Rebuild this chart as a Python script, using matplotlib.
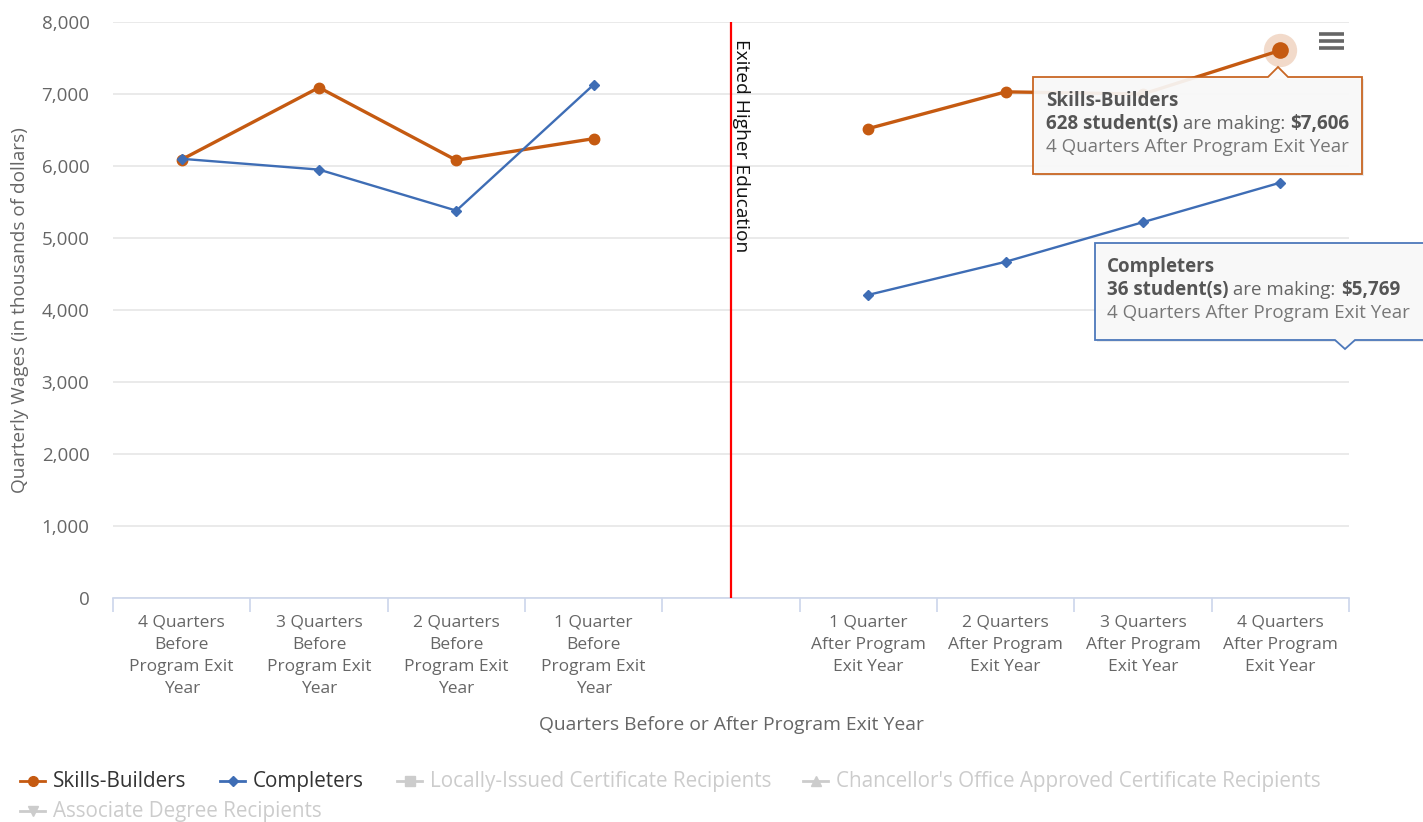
import numpy as np
import matplotlib
matplotlib.use("Agg")
import matplotlib.pyplot as plt
from matplotlib.lines import Line2D
from matplotlib.patches import Polygon

plt.rcParams['font.family'] = ['Open Sans', 'DejaVu Sans']

# ---------------- data ----------------
categories = [
    "4 Quarters\nBefore\nProgram Exit\nYear",
    "3 Quarters\nBefore\nProgram Exit\nYear",
    "2 Quarters\nBefore\nProgram Exit\nYear",
    "1 Quarter\nBefore\nProgram Exit\nYear",
    "",
    "1 Quarter\nAfter Program\nExit Year",
    "2 Quarters\nAfter Program\nExit Year",
    "3 Quarters\nAfter Program\nExit Year",
    "4 Quarters\nAfter Program\nExit Year",
]
skills_builders = [6090, 7090, 6080, 6380, np.nan, 6520, 7030, 7000, 7606]
completers = [6100, 5950, 5380, 7130, np.nan, 4210, 4670, 5220, 5769]
y_ticks = [0, 1000, 2000, 3000, 4000, 5000, 6000, 7000, 8000]
legend_names = ["Skills-Builders", "Completers", "Locally-Issued Certificate Recipients",
                "Chancellor's Office Approved Certificate Recipients", "Associate Degree Recipients"]
exit_index = 4
exit_label = "Exited Higher Education"
hover_index = 8

ORANGE = "#C55A11"
BLUE = "#3E6DB5"
GRID = "#e6e6e6"
AXIS = "#ccd6eb"
LABEL = "#666666"
HIDDEN = "#cccccc"

W, H = 1423, 822
fig = plt.figure(figsize=(W / 100, H / 100), dpi=100)
fig.patch.set_facecolor("white")

def fx(px):
    return px / W

def fy(py):
    return 1 - py / H

ax = fig.add_axes([fx(113), fy(598), fx(1349) - fx(113), fy(22) - fy(598)])
x = np.arange(len(categories))

ax.plot(x, skills_builders, color=ORANGE, lw=2.4, marker="o", ms=7.5, zorder=4)
ax.plot(x, completers, color=BLUE, lw=1.7, marker="D", ms=5.5, zorder=4)

# hover halo on one point
ax.plot([x[hover_index]], [skills_builders[hover_index]], marker="o", ms=24,
        color=ORANGE, alpha=0.22, zorder=5, mec="none")
ax.plot([x[hover_index]], [skills_builders[hover_index]], marker="o", ms=12,
        color=ORANGE, zorder=6, mec="none")

ax.axvline(exit_index, color="#ff0000", lw=1.6, zorder=3)
ax.text(exit_index + 0.07, 7770, exit_label, rotation=270, ha="center", va="top",
        fontsize=13.8, color="#111111", zorder=3)

ax.set_xlim(-0.5, len(categories) - 0.5)
ax.set_ylim(0, 8000)
ax.set_yticks(y_ticks)
ax.set_yticklabels([f"{v:,}" for v in y_ticks])
ax.set_xticks(x)
ax.set_xticklabels(categories, fontsize=12.5, color=LABEL, linespacing=1.52)
ax.set_xticks(np.arange(-0.5, len(categories), 1), minor=True)
ax.tick_params(axis="x", which="major", length=0, pad=12)
ax.tick_params(axis="x", which="minor", length=10, color=AXIS, width=1.2)
ax.tick_params(axis="y", length=0, pad=17, labelsize=13.5, labelcolor=LABEL)
ax.grid(axis="y", color=GRID, lw=1.2)
ax.set_axisbelow(True)
for s in ["top", "right", "left"]:
    ax.spines[s].set_visible(False)
ax.spines["bottom"].set_color(AXIS)
ax.spines["bottom"].set_linewidth(1.2)

ax.set_xlabel("Quarters Before or After Program Exit Year", fontsize=13.9, color=LABEL)
ax.xaxis.set_label_coords((731 - 113) / 1236, (598 - 725) / 576)
ax.xaxis.label.set_va("center")
ax.set_ylabel("Quarterly Wages (in thousands of dollars)", fontsize=13.7, color=LABEL)
ax.yaxis.set_label_coords((20 - 113) / 1236, 0.5)
ax.yaxis.label.set_va("center")

# ---------------- overlay in pixel coords ----------------
ov = fig.add_axes([0, 0, 1, 1], zorder=10)
ov.set_xlim(0, W)
ov.set_ylim(H, 0)
ov.axis("off")
ov.patch.set_alpha(0)

renderer = fig.canvas.get_renderer()

def seq_text(x0, y0, parts, size):
    xc = x0
    for txt, weight, col in parts:
        t = ov.text(xc, y0, txt, fontsize=size, fontweight=weight, color=col,
                    ha="left", va="center")
        bb = t.get_window_extent(renderer)
        xc += bb.width

# menu icon
for yy in (34, 41, 48):
    ov.add_line(Line2D([1319, 1344], [yy, yy], color="#666666", lw=2.6,
                       solid_capstyle="butt"))

TT = 13.5
# tooltip 1 (Skills-Builders)
l, r, t, b = 1033, 1362, 77, 174
px = 1278
shadow = Polygon([(l + 2, t + 2), (r + 2, t + 2), (r + 2, b + 2), (l + 2, b + 2)],
                 closed=True, fc="#000000", alpha=0.08, ec="none")
ov.add_patch(shadow)
tt1 = Polygon([(l, t), (px - 10, t), (px, t - 10), (px + 10, t), (r, t), (r, b), (l, b)],
              closed=True, fc="#fafafa", alpha=0.92, ec=ORANGE, lw=1.3)
ov.add_patch(tt1)
seq_text(1046, 101, [("Skills-Builders", "bold", "#555555")], TT)
seq_text(1046, 124, [("628 student(s)", "bold", "#555555"), (" are making: ", "normal", "#666666"),
                     ("$7,606", "bold", "#555555")], TT)
seq_text(1046, 147, [("4 Quarters After Program Exit Year", "normal", "#777777")], TT)

# tooltip 2 (Completers)
l, r, t, b = 1095, 1440, 243, 340
px = 1345
shadow2 = Polygon([(l + 2, t + 2), (r + 2, t + 2), (r + 2, b + 2), (l + 2, b + 2)],
                  closed=True, fc="#000000", alpha=0.08, ec="none")
ov.add_patch(shadow2)
tt2 = Polygon([(l, t), (r, t), (r, b), (px + 10, b), (px, b + 9), (px - 10, b), (l, b)],
              closed=True, fc="#fafafa", alpha=0.92, ec=BLUE, lw=1.3)
ov.add_patch(tt2)
seq_text(1107, 267, [("Completers", "bold", "#555555")], TT)
seq_text(1107, 290, [("36 student(s)", "bold", "#555555"), (" are making: ", "normal", "#666666"),
                     ("$5,769", "bold", "#555555")], TT)
seq_text(1107, 313, [("4 Quarters After Program Exit Year", "normal", "#777777")], TT)

# ---------------- legend ----------------
legend_items = [
    (legend_names[0], ORANGE, "o", "#333333", 20, 781),
    (legend_names[1], BLUE, "D", "#333333", 220, 781),
    (legend_names[2], HIDDEN, "s", HIDDEN, 397, 781),
    (legend_names[3], HIDDEN, "^", HIDDEN, 803, 781),
    (legend_names[4], HIDDEN, "v", HIDDEN, 20, 811),
]
for name, col, mk, tcol, lx, ly in legend_items:
    ov.add_line(Line2D([lx, lx + 25], [ly, ly], color=col, lw=2))
    ov.add_line(Line2D([lx + 12.5], [ly], marker=mk, ms=7 if mk != "D" else 5.5,
                       color=col, mec=col))
    ov.text(lx + 33, ly, name, fontsize=14.9, color=tcol, ha="left", va="center")

fig.savefig("out.png", dpi=100, facecolor="white")
